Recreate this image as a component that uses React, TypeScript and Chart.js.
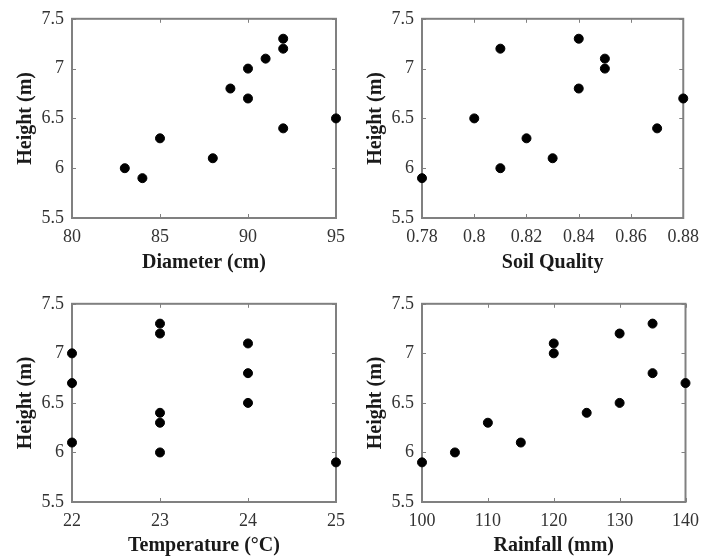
import React, { useEffect, useRef } from 'react';
import { Chart, registerables } from 'chart.js';

Chart.register(...registerables);

// ---- data ----
const diameterX = [83, 84, 85, 88, 89, 90, 90, 91, 92, 92, 92, 95];
const diameterY = [6.0, 5.9, 6.3, 6.1, 6.8, 7.0, 6.7, 7.1, 7.3, 7.2, 6.4, 6.5];
const soilX = [0.78, 0.8, 0.81, 0.81, 0.82, 0.83, 0.84, 0.84, 0.85, 0.85, 0.87, 0.88];
const soilY = [5.9, 6.5, 7.2, 6.0, 6.3, 6.1, 7.3, 6.8, 7.1, 7.0, 6.4, 6.7];
const tempX = [22, 22, 22, 23, 23, 23, 23, 23, 24, 24, 24, 25];
const tempY = [7.0, 6.7, 6.1, 7.3, 7.2, 6.4, 6.3, 6.0, 7.1, 6.8, 6.5, 5.9];
const rainX = [100, 105, 110, 115, 120, 120, 125, 130, 130, 135, 135, 140];
const rainY = [5.9, 6.0, 6.3, 6.1, 7.1, 7.0, 6.4, 7.2, 6.5, 7.3, 6.8, 6.7];

const heightTicks = [5.5, 6, 6.5, 7, 7.5];
const diameterTicks = [80, 85, 90, 95];
const soilTicks = [0.78, 0.8, 0.82, 0.84, 0.86, 0.88];
const tempTicks = [22, 23, 24, 25];
const rainTicks = [100, 110, 120, 130, 140];

const yTitle = 'Height (m)';

const FONT = '"Liberation Serif", "Times New Roman", Times, serif';
const AXIS_COLOR = '#808080';

Chart.defaults.font.family = FONT;

const boxPlugin = {
  id: 'matlabBox',
  beforeDatasetsDraw(chart: any) {
    const { ctx, chartArea } = chart;
    const { left, right, top, bottom } = chartArea;
    ctx.save();
    ctx.strokeStyle = AXIS_COLOR;
    ctx.lineWidth = 1;
    const tl = 4;
    const xs = chart.scales.x;
    const ys = chart.scales.y;
    ctx.beginPath();
    xs.ticks.forEach((t: any) => {
      const px = Math.round(xs.getPixelForValue(t.value)) + 0.5;
      ctx.moveTo(px, bottom);
      ctx.lineTo(px, bottom - tl);
      ctx.moveTo(px, top);
      ctx.lineTo(px, top + tl);
    });
    ys.ticks.forEach((t: any) => {
      const py = Math.round(ys.getPixelForValue(t.value)) + 0.5;
      ctx.moveTo(left, py);
      ctx.lineTo(left + tl, py);
      ctx.moveTo(right, py);
      ctx.lineTo(right - tl, py);
    });
    ctx.stroke();
    ctx.lineWidth = 2;
    ctx.strokeRect(left, top, right - left, bottom - top);
    ctx.restore();
  },
};

type PanelProps = {
  xs: number[];
  ys: number[];
  xTicks: number[];
  xLabel: string;
  left: number;
  top: number;
  width: number;
  height: number;
  yWidth: number;
  xHeight: number;
  padTop: number;
  padRight: number;
  yTitlePad: number;
  xTitlePad: number;
};

function Panel(p: PanelProps) {
  const ref = useRef<HTMLCanvasElement | null>(null);
  useEffect(() => {
    if (!ref.current) return;
    const data = p.xs.map((x, i) => ({ x, y: p.ys[i] }));
    const chart = new Chart(ref.current, {
      type: 'scatter',
      data: {
        datasets: [
          {
            data,
            backgroundColor: '#000',
            borderColor: '#000',
            pointRadius: 4.5,
            pointBorderWidth: 1,
            clip: false as any,
          },
        ],
      },
      options: {
        animation: false,
        responsive: false,
        maintainAspectRatio: false,
        devicePixelRatio: 1,
        layout: { padding: { top: p.padTop, right: p.padRight, left: 0, bottom: 0 } },
        plugins: { legend: { display: false }, tooltip: { enabled: false } },
        scales: {
          x: {
            type: 'linear',
            min: p.xTicks[0],
            max: p.xTicks[p.xTicks.length - 1],
            afterBuildTicks: (s: any) => {
              s.ticks = p.xTicks.map((v) => ({ value: v }));
            },
            afterFit: (s: any) => {
              s.height = p.xHeight;
            },
            grid: { display: false, drawTicks: false },
            border: { display: false },
            ticks: {
              padding: 8,
              color: '#333',
              font: { family: FONT, size: 18 },
              maxRotation: 0,
              autoSkip: false,
              callback: (v: any) => String(Number(v)),
            },
            title: {
              display: true,
              text: p.xLabel,
              color: '#1a1a1a',
              font: { family: FONT, size: 20, weight: 'bold' },
              padding: { top: 0, bottom: p.xTitlePad },
            },
          },
          y: {
            type: 'linear',
            min: heightTicks[0],
            max: heightTicks[heightTicks.length - 1],
            afterBuildTicks: (s: any) => {
              s.ticks = heightTicks.map((v) => ({ value: v }));
            },
            afterFit: (s: any) => {
              s.width = p.yWidth;
            },
            grid: { display: false, drawTicks: false },
            border: { display: false },
            ticks: {
              padding: 8,
              color: '#333',
              font: { family: FONT, size: 18 },
              autoSkip: false,
              callback: (v: any) => String(Number(v)),
            },
            title: {
              display: true,
              text: yTitle,
              color: '#1a1a1a',
              font: { family: FONT, size: 20, weight: 'bold' },
              padding: { top: p.yTitlePad, bottom: 0 },
            },
          },
        },
      } as any,
      plugins: [boxPlugin],
    });
    return () => chart.destroy();
  }, []);
  return (
    <canvas
      ref={ref}
      width={p.width}
      height={p.height}
      style={{ position: 'absolute', left: p.left, top: p.top, width: p.width, height: p.height }}
    />
  );
}

export default function App() {
  useEffect(() => {
    document.body.style.margin = '0';
  }, []);
  return (
    <div style={{ position: 'relative', width: 707, height: 559, background: '#fff', overflow: 'hidden' }}>
      <Panel xs={diameterX} ys={diameterY} xTicks={diameterTicks} xLabel="Diameter (cm)"
        left={0} top={0} width={353} height={285} yWidth={72} xHeight={67} padTop={18} padRight={14} yTitlePad={14} xTitlePad={10} />
      <Panel xs={soilX} ys={soilY} xTicks={soilTicks} xLabel="Soil Quality"
        left={353} top={0} width={354} height={285} yWidth={69} xHeight={67} padTop={18} padRight={17} yTitlePad={11} xTitlePad={10} />
      <Panel xs={tempX} ys={tempY} xTicks={tempTicks} xLabel="Temperature (°C)"
        left={0} top={285} width={353} height={274} yWidth={72} xHeight={57} padTop={18} padRight={14} yTitlePad={14} xTitlePad={1} />
      <Panel xs={rainX} ys={rainY} xTicks={rainTicks} xLabel="Rainfall (mm)"
        left={353} top={285} width={354} height={274} yWidth={69} xHeight={57} padTop={18} padRight={16} yTitlePad={11} xTitlePad={1} />
    </div>
  );
}
